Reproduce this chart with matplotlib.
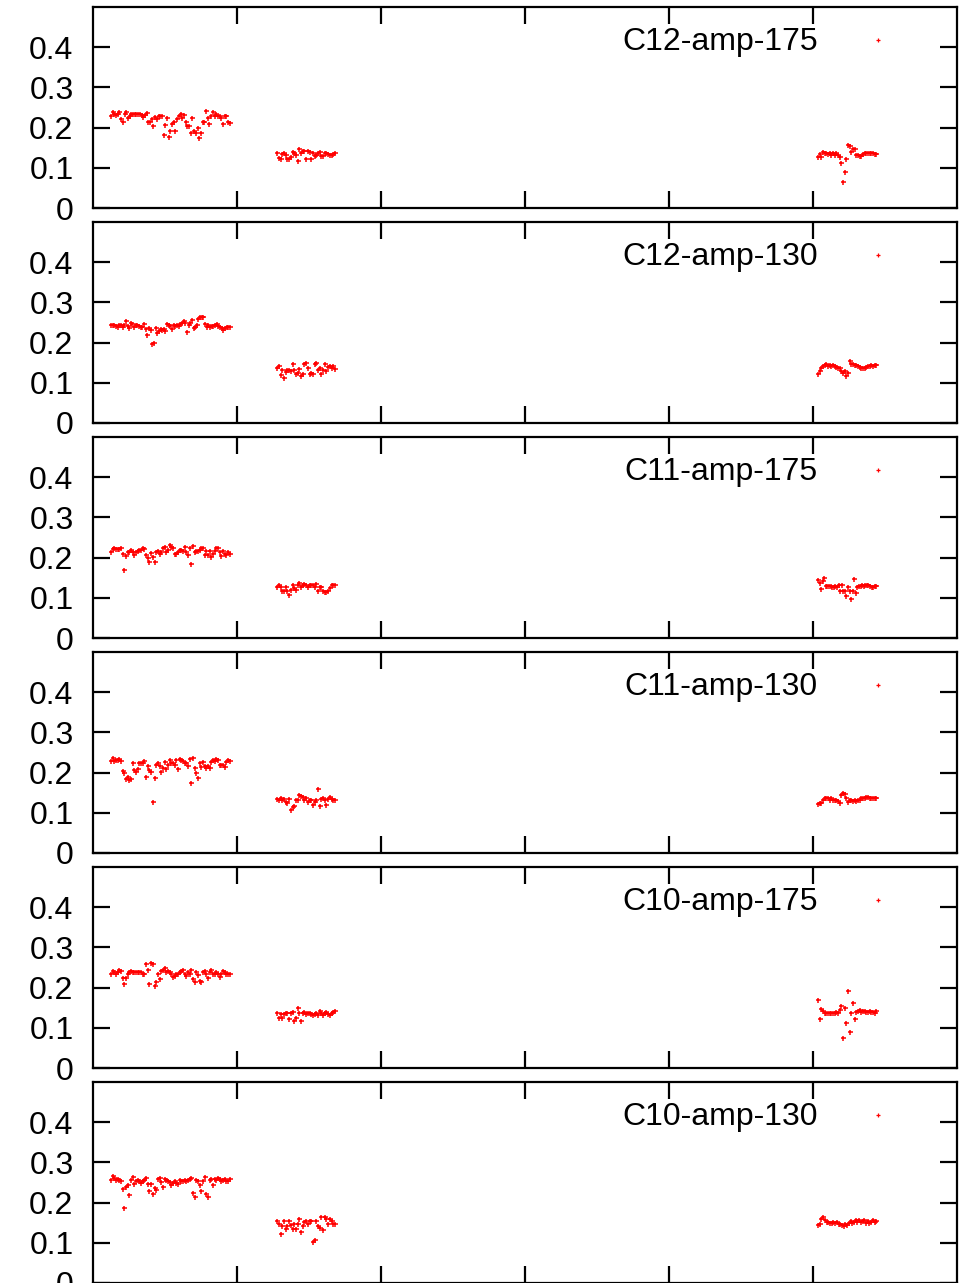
import matplotlib
matplotlib.use("Agg")
import matplotlib.pyplot as plt
import numpy as np

plt.rcParams["font.family"] = ["Liberation Sans", "DejaVu Sans"]

labels = ["C12-amp-175", "C12-amp-130", "C11-amp-175",
          "C11-amp-130", "C10-amp-175", "C10-amp-130"]

# where the three runs sit on the x axis (start, end)
run_spans = [(12.5, 95.0), (128.0, 168.0), (503.5, 544.0)]

c12_175_a = [0.228, 0.238, 0.233, 0.232, 0.235, 0.238, 0.221, 0.213, 0.233, 0.238, 0.225, 0.229,
             0.233, 0.233, 0.233, 0.233, 0.233, 0.235, 0.232, 0.227, 0.232, 0.236, 0.215, 0.213,
             0.221, 0.204, 0.227, 0.221, 0.229, 0.229, 0.229, 0.181, 0.207, 0.225, 0.177, 0.192,
             0.210, 0.214, 0.192, 0.221, 0.229, 0.233, 0.223, 0.232, 0.213, 0.204, 0.204, 0.186,
             0.223, 0.192, 0.186, 0.200, 0.175, 0.186, 0.213, 0.215, 0.242, 0.223, 0.208, 0.229,
             0.238, 0.229, 0.233, 0.229, 0.229, 0.225, 0.210, 0.229, 0.229, 0.213, 0.211]
c12_175_b = [0.136, 0.125, 0.122, 0.134, 0.136, 0.133, 0.123, 0.121, 0.128, 0.140, 0.136, 0.133,
             0.117, 0.147, 0.136, 0.142, 0.142, 0.122, 0.142, 0.140, 0.122, 0.136, 0.130, 0.133,
             0.136, 0.140, 0.129, 0.129, 0.136, 0.138, 0.134, 0.133, 0.133, 0.134, 0.136]
c12_175_c = [0.128, 0.134, 0.128, 0.140, 0.136, 0.137, 0.134, 0.136, 0.133, 0.137, 0.132, 0.136,
             0.132, 0.128, 0.111, 0.064, 0.090, 0.121, 0.157, 0.155, 0.140, 0.146, 0.146, 0.133,
             0.132, 0.129, 0.129, 0.134, 0.136, 0.137, 0.137, 0.137, 0.137, 0.136, 0.134, 0.134]

c12_130_a = [0.244, 0.244, 0.243, 0.242, 0.240, 0.243, 0.244, 0.239, 0.244, 0.253, 0.242, 0.236,
             0.250, 0.246, 0.239, 0.244, 0.244, 0.242, 0.239, 0.239, 0.246, 0.233, 0.219, 0.236,
             0.231, 0.196, 0.200, 0.236, 0.225, 0.229, 0.233, 0.231, 0.233, 0.228, 0.246, 0.244,
             0.242, 0.233, 0.244, 0.242, 0.244, 0.242, 0.246, 0.248, 0.253, 0.250, 0.227, 0.244,
             0.248, 0.256, 0.236, 0.239, 0.244, 0.258, 0.263, 0.264, 0.264, 0.246, 0.239, 0.244,
             0.239, 0.242, 0.242, 0.244, 0.246, 0.242, 0.239, 0.236, 0.232, 0.236, 0.240, 0.238,
             0.238]
c12_130_b = [0.136, 0.142, 0.119, 0.132, 0.111, 0.128, 0.132, 0.132, 0.129, 0.146, 0.133, 0.121,
             0.125, 0.135, 0.117, 0.123, 0.148, 0.150, 0.138, 0.123, 0.125, 0.123, 0.148, 0.150,
             0.133, 0.138, 0.123, 0.133, 0.148, 0.129, 0.139, 0.142, 0.138, 0.142, 0.135]
c12_130_c = [0.122, 0.130, 0.136, 0.142, 0.144, 0.147, 0.142, 0.144, 0.142, 0.144, 0.142, 0.140,
             0.138, 0.136, 0.130, 0.125, 0.130, 0.118, 0.124, 0.154, 0.148, 0.147, 0.144, 0.144,
             0.142, 0.140, 0.138, 0.136, 0.138, 0.140, 0.142, 0.142, 0.144, 0.143, 0.144, 0.144]

c11_175_a = [0.214, 0.221, 0.223, 0.221, 0.221, 0.221, 0.225, 0.210, 0.168, 0.203, 0.214, 0.213,
             0.220, 0.214, 0.206, 0.214, 0.217, 0.218, 0.220, 0.223, 0.221, 0.206, 0.198, 0.188,
             0.212, 0.202, 0.188, 0.214, 0.217, 0.210, 0.214, 0.225, 0.227, 0.213, 0.218, 0.231,
             0.227, 0.223, 0.210, 0.208, 0.214, 0.218, 0.220, 0.217, 0.227, 0.214, 0.206, 0.223,
             0.185, 0.229, 0.214, 0.217, 0.217, 0.218, 0.223, 0.225, 0.206, 0.217, 0.206, 0.217,
             0.202, 0.210, 0.217, 0.225, 0.223, 0.214, 0.203, 0.217, 0.208, 0.206, 0.214, 0.208]
c11_175_b = [0.127, 0.131, 0.128, 0.118, 0.118, 0.128, 0.118, 0.108, 0.120, 0.131, 0.125, 0.120,
             0.131, 0.137, 0.128, 0.133, 0.135, 0.133, 0.127, 0.131, 0.133, 0.131, 0.128, 0.135,
             0.117, 0.127, 0.128, 0.117, 0.114, 0.114, 0.117, 0.125, 0.131, 0.133, 0.133]
c11_175_c = [0.144, 0.136, 0.122, 0.142, 0.150, 0.130, 0.130, 0.130, 0.130, 0.128, 0.126, 0.130,
             0.126, 0.132, 0.117, 0.133, 0.117, 0.117, 0.104, 0.128, 0.117, 0.096, 0.117, 0.148,
             0.111, 0.128, 0.130, 0.130, 0.133, 0.130, 0.132, 0.132, 0.132, 0.130, 0.128, 0.126,
             0.130, 0.130]

c11_130_a = [0.228, 0.237, 0.228, 0.231, 0.231, 0.233, 0.229, 0.203, 0.198, 0.185, 0.189, 0.181,
             0.185, 0.225, 0.206, 0.202, 0.210, 0.223, 0.225, 0.225, 0.228, 0.189, 0.217, 0.206,
             0.202, 0.128, 0.187, 0.218, 0.223, 0.217, 0.202, 0.212, 0.227, 0.208, 0.220, 0.231,
             0.225, 0.223, 0.220, 0.231, 0.208, 0.233, 0.231, 0.228, 0.223, 0.225, 0.217, 0.235,
             0.175, 0.237, 0.212, 0.200, 0.187, 0.223, 0.214, 0.227, 0.217, 0.212, 0.217, 0.212,
             0.227, 0.231, 0.228, 0.233, 0.231, 0.220, 0.218, 0.220, 0.214, 0.227, 0.231, 0.228]
c11_130_b = [0.135, 0.133, 0.137, 0.131, 0.135, 0.128, 0.125, 0.135, 0.108, 0.114, 0.117, 0.131,
             0.133, 0.145, 0.143, 0.139, 0.133, 0.137, 0.128, 0.131, 0.133, 0.120, 0.127, 0.131,
             0.158, 0.117, 0.135, 0.137, 0.131, 0.120, 0.135, 0.139, 0.135, 0.133, 0.131]
c11_130_c = [0.122, 0.124, 0.125, 0.133, 0.136, 0.138, 0.136, 0.133, 0.136, 0.133, 0.132, 0.133,
             0.130, 0.125, 0.144, 0.150, 0.147, 0.136, 0.128, 0.132, 0.133, 0.130, 0.132, 0.130,
             0.132, 0.133, 0.136, 0.136, 0.138, 0.140, 0.140, 0.138, 0.138, 0.136, 0.136, 0.136]

c10_175_a = [0.235, 0.241, 0.238, 0.235, 0.239, 0.243, 0.241, 0.223, 0.208, 0.223, 0.235, 0.239,
             0.241, 0.238, 0.239, 0.239, 0.238, 0.238, 0.239, 0.235, 0.233, 0.258, 0.243, 0.210,
             0.260, 0.258, 0.204, 0.213, 0.235, 0.221, 0.241, 0.243, 0.248, 0.239, 0.241, 0.239,
             0.235, 0.227, 0.229, 0.235, 0.235, 0.238, 0.241, 0.243, 0.235, 0.229, 0.239, 0.233,
             0.243, 0.221, 0.213, 0.239, 0.231, 0.216, 0.214, 0.238, 0.241, 0.235, 0.223, 0.238,
             0.243, 0.235, 0.235, 0.238, 0.235, 0.227, 0.235, 0.241, 0.238, 0.235, 0.235, 0.235]
c10_175_b = [0.138, 0.124, 0.135, 0.124, 0.135, 0.138, 0.138, 0.123, 0.138, 0.139, 0.116, 0.124,
             0.149, 0.138, 0.118, 0.138, 0.139, 0.135, 0.138, 0.138, 0.135, 0.133, 0.135, 0.138,
             0.133, 0.143, 0.138, 0.133, 0.138, 0.139, 0.135, 0.133, 0.138, 0.139, 0.141]
c10_175_c = [0.169, 0.121, 0.148, 0.143, 0.138, 0.138, 0.138, 0.136, 0.138, 0.136, 0.138, 0.140,
             0.136, 0.144, 0.155, 0.074, 0.150, 0.111, 0.191, 0.089, 0.136, 0.161, 0.121, 0.140,
             0.143, 0.144, 0.140, 0.143, 0.143, 0.140, 0.140, 0.143, 0.140, 0.140, 0.138, 0.143]

c10_130_a = [0.257, 0.265, 0.261, 0.257, 0.259, 0.257, 0.254, 0.234, 0.186, 0.240, 0.244, 0.218,
             0.257, 0.263, 0.246, 0.253, 0.257, 0.254, 0.248, 0.253, 0.257, 0.261, 0.246, 0.229,
             0.246, 0.221, 0.236, 0.232, 0.259, 0.261, 0.251, 0.238, 0.259, 0.257, 0.254, 0.251,
             0.243, 0.248, 0.253, 0.248, 0.246, 0.257, 0.254, 0.254, 0.257, 0.253, 0.257, 0.259,
             0.261, 0.223, 0.213, 0.257, 0.254, 0.243, 0.229, 0.254, 0.263, 0.221, 0.213, 0.257,
             0.259, 0.244, 0.259, 0.257, 0.261, 0.259, 0.253, 0.257, 0.259, 0.253, 0.254, 0.259]
c10_130_b = [0.153, 0.146, 0.122, 0.143, 0.154, 0.134, 0.143, 0.154, 0.144, 0.134, 0.146, 0.134,
             0.148, 0.159, 0.128, 0.143, 0.151, 0.154, 0.146, 0.153, 0.154, 0.101, 0.107, 0.154,
             0.143, 0.138, 0.165, 0.132, 0.165, 0.159, 0.148, 0.159, 0.154, 0.148, 0.148]
c10_130_c = [0.144, 0.148, 0.158, 0.163, 0.157, 0.152, 0.152, 0.150, 0.150, 0.152, 0.150, 0.152,
             0.148, 0.148, 0.144, 0.142, 0.147, 0.144, 0.150, 0.155, 0.150, 0.152, 0.157, 0.152,
             0.157, 0.152, 0.155, 0.157, 0.150, 0.155, 0.150, 0.152, 0.157, 0.152, 0.155]

panels = [
    (c12_175_a, c12_175_b, c12_175_c),
    (c12_130_a, c12_130_b, c12_130_c),
    (c11_175_a, c11_175_b, c11_175_c),
    (c11_130_a, c11_130_b, c11_130_c),
    (c10_175_a, c10_175_b, c10_175_c),
    (c10_130_a, c10_130_b, c10_130_c),
]

W, H = 972, 1283
fig = plt.figure(figsize=(W / 100, H / 100), dpi=100)

for k, (label, runs) in enumerate(zip(labels, panels)):
    # stacked panels, 201 px tall, 215 px apart
    top = 7 + 215 * k
    ax = fig.add_axes([93 / W, 1 - (top + 201) / H, 864 / W, 201 / H])

    for (x0, x1), vals in zip(run_spans, runs):
        x = np.linspace(x0, x1, len(vals))
        ax.plot(x, vals, ls="none", marker="+", ms=3.6, mew=1.1, color="#ff0000")

    # gnuplot style key: text, then the point sample
    ax.text(0.839, 0.786, label, transform=ax.transAxes, ha="right", va="baseline",
            fontsize=23)
    ax.plot([0.9086], [0.838], ls="none", marker="+", ms=3.2, mew=0.9, color="#ff0000",
            transform=ax.transAxes, clip_on=False)

    ax.set_xlim(0, 600)
    ax.set_ylim(0, 0.5)
    ax.set_xticks([100, 200, 300, 400, 500])
    ax.set_yticks([0, 0.1, 0.2, 0.3, 0.4])
    ax.set_yticklabels(["0", "0.1", "0.2", "0.3", "0.4"])
    ax.tick_params(direction="in", length=12, width=1.6, top=True, right=True,
                   labelbottom=False, labelsize=23, pad=14)
    for s in ax.spines.values():
        s.set_linewidth(1.6)

fig.savefig("out.png", dpi=100)
